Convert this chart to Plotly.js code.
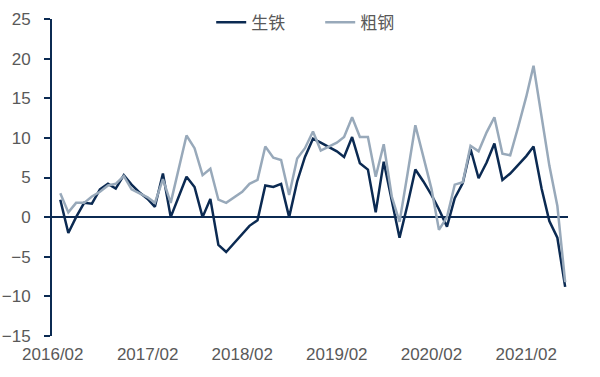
<!DOCTYPE html>
<html>
<head>
<meta charset="utf-8">
<script src="https://cdn.plot.ly/plotly-3.0.1.min.js"></script>
<style>html,body{margin:0;padding:0;background:#fff;}#chart{width:600px;height:377px;}</style>
</head>
<body>
<div id="chart"></div>
<script>
const months = [
 '2016-03','2016-04','2016-05','2016-06','2016-07','2016-08','2016-09','2016-10','2016-11','2016-12',
 '2017-01','2017-02','2017-03','2017-04','2017-05','2017-06','2017-07','2017-08','2017-09','2017-10','2017-11','2017-12',
 '2018-01','2018-02','2018-03','2018-04','2018-05','2018-06','2018-07','2018-08','2018-09','2018-10','2018-11','2018-12',
 '2019-01','2019-02','2019-03','2019-04','2019-05','2019-06','2019-07','2019-08','2019-09','2019-10','2019-11','2019-12',
 '2020-01','2020-02','2020-03','2020-04','2020-05','2020-06','2020-07','2020-08','2020-09','2020-10','2020-11','2020-12',
 '2021-01','2021-02','2021-03','2021-04','2021-05','2021-06','2021-07'
];
const pigIron = [
 2.2,-2.0,0.0,1.8,1.7,3.5,4.2,3.6,5.3,4.1,
 3.1,2.3,1.3,5.5,0.0,2.5,5.1,3.8,0.0,2.3,-3.5,-4.4,
 -3.3,-2.2,-1.1,-0.4,4.0,3.8,4.2,0.0,4.5,7.6,9.9,9.4,
 8.9,8.3,7.6,10.1,6.8,6.0,0.6,7.0,2.1,-2.6,1.6,6.0,
 4.5,2.8,1.0,-1.2,2.4,4.3,8.6,4.9,6.9,9.3,4.7,5.5,
 6.6,7.7,8.9,3.6,-0.5,-2.6,-8.8
];
const crudeSteel = [
 3.0,0.6,1.8,1.8,2.6,3.2,4.0,4.2,5.2,3.5,
 3.0,2.5,1.8,4.8,1.8,6.0,10.3,8.7,5.3,6.1,2.2,1.8,
 2.5,3.2,4.2,4.7,8.9,7.5,7.2,2.8,7.4,8.7,10.8,8.4,
 8.9,9.4,10.1,12.6,10.1,10.1,5.1,9.2,2.6,-0.6,5.5,11.6,
 7.6,3.6,-1.6,0.0,4.1,4.4,9.0,8.3,10.7,12.6,8.0,7.8,
 11.4,15.2,19.1,12.4,6.5,1.4,-8.2
];
const seriesNames = ['生铁','粗钢'];
const tickMonths = ['2016-02','2017-02','2018-02','2019-02','2020-02','2021-02'];
const tickLabels = ['2016/02','2017/02','2018/02','2019/02','2020/02','2021/02'];

const navy = '#0b2a52';
const grey = '#98a9ba';
const textCol = '#595959';

const data = [
  {x: months, y: pigIron, name: seriesNames[0], type: 'scatter', mode: 'lines',
   line: {color: navy, width: 2.5}},
  {x: months, y: crudeSteel, name: seriesNames[1], type: 'scatter', mode: 'lines',
   line: {color: grey, width: 2.5}}
];

const layout = {
  width: 600, height: 377,
  margin: {l: 52, r: 32, t: 19, b: 41, autoexpand: false},
  paper_bgcolor: '#fff', plot_bgcolor: '#fff',
  font: {family: 'Liberation Sans, Arial, sans-serif', color: textCol, size: 17},
  showlegend: true,
  legend: {orientation: 'h', xref: 'container', yref: 'container',
    x: 0.352, xanchor: 'left', y: 0.94, yanchor: 'middle',
    font: {family: 'Noto Sans CJK SC, sans-serif', size: 17, color: textCol},
    bgcolor: 'rgba(0,0,0,0)', entrywidth: 64, entrywidthmode: 'pixels', traceorder: 'normal'},
  xaxis: {
    type: 'date',
    range: ['2016-01-29', '2021-07-12'],
    tickvals: tickMonths, ticktext: tickLabels,
    showgrid: false, zeroline: false, showline: false, ticks: '',
    ticklabelstandoff: 6,
    tickfont: {size: 17, color: textCol}
  },
  yaxis: {
    range: [-15, 25], dtick: 5, tick0: -15,
    showgrid: false,
    zeroline: true, zerolinecolor: navy, zerolinewidth: 1.5,
    showline: true, linecolor: navy, linewidth: 2,
    ticks: 'outside', ticklen: 6, tickwidth: 2, tickcolor: navy,
    ticklabelstandoff: 10,
    tickfont: {size: 17, color: textCol}
  }
};

Plotly.newPlot('chart', data, layout, {displayModeBar: false, staticPlot: true});
</script>
</body>
</html>
